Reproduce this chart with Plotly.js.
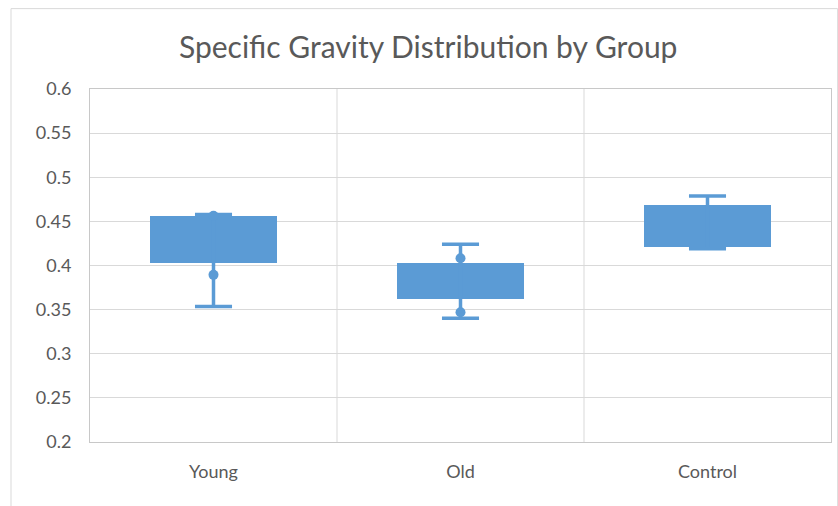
<!DOCTYPE html>
<html>
<head>
<meta charset="utf-8">
<script src="https://cdn.plot.ly/plotly-3.0.1.min.js"></script>
<style>
  html, body { margin: 0; padding: 0; background: #ffffff; }
  #chart { width: 838px; height: 506px; }
</style>
</head>
<body>
<div id="chart"></div>
<script>
// Box-plot summary per group
const groups = ['Young', 'Old', 'Control'];
const q1 = [0.4034, 0.3622, 0.4215];
const q3 = [0.4563, 0.4034, 0.4688];
const whiskerMin = [0.3535, 0.3403, 0.4189];
const whiskerMax = [0.4577, 0.4242, 0.4787];
// Individual marked points
const pointGroup = [0, 0, 1, 1];
const pointValue = [0.4563, 0.3894, 0.4083, 0.3471];

const blue = '#5b9bd5';
const capHalf = 0.075;
const xs = groups.map((g, i) => i);

// Whisker stems
const stemX = [], stemY = [];
xs.forEach(i => { stemX.push(i, i, null); stemY.push(whiskerMin[i], whiskerMax[i], null); });

// Whisker caps
const capX = [], capY = [];
xs.forEach(i => {
  capX.push(i - capHalf, i + capHalf, null, i - capHalf, i + capHalf, null);
  capY.push(whiskerMax[i], whiskerMax[i], null, whiskerMin[i], whiskerMin[i], null);
});

const traces = [
  {
    type: 'scatter', mode: 'lines', x: stemX, y: stemY,
    line: { color: blue, width: 3.5 }, hoverinfo: 'skip', showlegend: false
  },
  {
    type: 'scatter', mode: 'lines', x: capX, y: capY,
    line: { color: blue, width: 3.5 }, hoverinfo: 'skip', showlegend: false
  },
  {
    type: 'bar', x: xs, base: q1, y: q3.map((v, i) => v - q1[i]),
    width: 0.515, marker: { color: blue, line: { width: 0 } }, showlegend: false
  },
  {
    type: 'scatter', mode: 'markers', x: pointGroup, y: pointValue,
    marker: { color: blue, size: 10 }, showlegend: false
  }
];

const font = 'Lato, "Open Sans", sans-serif';
const layout = {
  width: 838, height: 506,
  margin: { l: 90, r: 7, t: 89, b: 64 },
  paper_bgcolor: '#ffffff', plot_bgcolor: '#ffffff',
  font: { family: font, color: '#595959', size: 18 },
  title: {
    text: 'Specific Gravity Distribution by Group',
    font: { family: font, size: 30, color: '#595959' },
    x: 0.511, xanchor: 'center', y: 0.907, yanchor: 'middle'
  },
  xaxis: {
    range: [-0.5, 2.5], tickvals: xs, ticktext: groups,
    showgrid: false, zeroline: false, ticks: '',
    showline: true, linecolor: '#c8c8c8', linewidth: 1, mirror: true,
    ticklabelstandoff: 13, tickfont: { size: 18, color: '#595959' }
  },
  yaxis: {
    range: [0.2, 0.6], dtick: 0.05, tick0: 0.2,
    showgrid: true, gridcolor: '#d9d9d9', gridwidth: 1, zeroline: false,
    showline: true, linecolor: '#c8c8c8', linewidth: 1, mirror: true,
    ticks: '', ticklabelstandoff: 14, tickfont: { size: 18, color: '#595959' }
  },
  bargap: 0,
  shapes: [
    { type: 'line', xref: 'x', yref: 'paper', x0: 0.5, x1: 0.5, y0: 0, y1: 1,
      line: { color: '#d9d9d9', width: 1 }, layer: 'below' },
    { type: 'line', xref: 'x', yref: 'paper', x0: 1.5, x1: 1.5, y0: 0, y1: 1,
      line: { color: '#d9d9d9', width: 1 }, layer: 'below' },
    { type: 'rect', xref: 'paper', yref: 'paper',
      x0: -0.1066, x1: 1.009, y0: -0.2, y1: 1.2277,
      line: { color: '#d9d9d9', width: 1 }, layer: 'below' }
  ]
};

Plotly.newPlot('chart', traces, layout, { displayModeBar: false, staticPlot: true });
</script>
</body>
</html>
